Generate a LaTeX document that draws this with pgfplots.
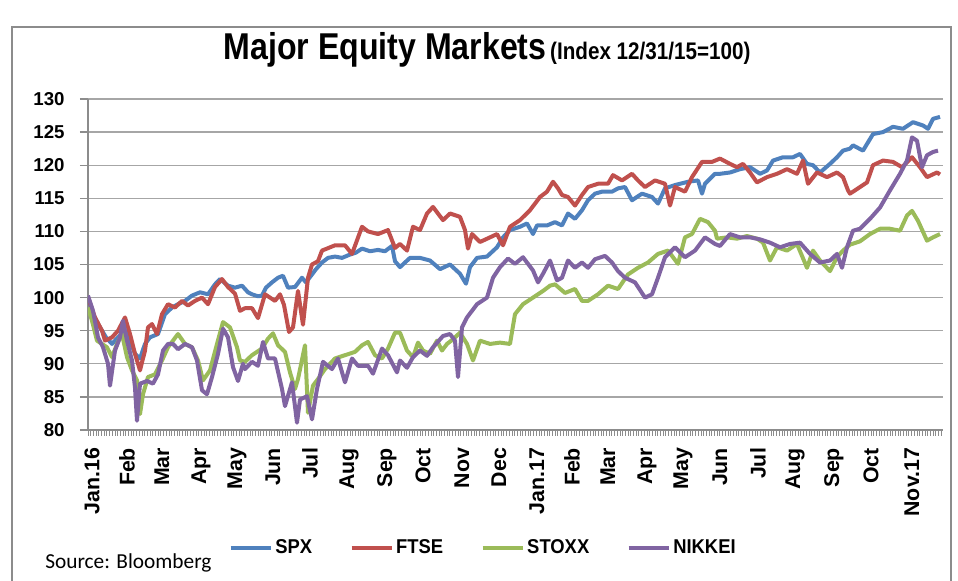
\documentclass[border=0pt]{standalone}
\usepackage{fontspec}
\setmainfont{Liberation Sans}
\newfontfamily\nar[FakeStretch=0.92]{Liberation Sans}
\newfontfamily\tnar[FakeStretch=0.86]{Liberation Sans}
\newfontfamily\srcfont{Carlito}
\usepackage{pgfplots}
\pgfplotsset{compat=1.18}
\definecolor{cSPX}{HTML}{4F81BD}
\definecolor{cFTSE}{HTML}{C0504D}
\definecolor{cSTOXX}{HTML}{9BBB59}
\definecolor{cNIK}{HTML}{8064A2}
\definecolor{gridGrey}{HTML}{A6A6A6}
\definecolor{axisGrey}{HTML}{8C8C8C}
\definecolor{frameGrey}{HTML}{8C8C8C}
\begin{document}
\begin{tikzpicture}
\path[use as bounding box] (0,0) rectangle (718.5pt,435.75pt);
\begin{scope}[x=0.75pt,y=-0.75pt,shift={(0pt,435.75pt)}]
  \draw[color=frameGrey, line width=1.4pt] (12,582) -- (12,27) -- (951,27) -- (951,582);
  \node[inner sep=0pt] at (487,50) {{\tnar\bfseries\fontsize{28}{28}\selectfont Major Equity Markets} {\tnar\bfseries\fontsize{18}{18}\selectfont (Index 12/31/15=100)}};
  \node[anchor=west, inner sep=0pt] at (45,563) {\srcfont\fontsize{16}{16}\selectfont Source: Bloomberg};
\end{scope}
\begin{axis}[
  at={(66pt,113.25pt)}, anchor=south west,
  scale only axis, width=641.25pt, height=248.25pt,
  xmin=88, xmax=943, ymin=80, ymax=130,
  axis x line*=bottom, axis y line*=left,
  axis line style={-, color=axisGrey, line width=1pt},
  ytick={80,85,...,130},
  ymajorgrids, major grid style={color=gridGrey, line width=1pt},
  tick align=outside,
  major tick length=6pt, minor tick length=4.5pt,
  ytick style={color=axisGrey, line width=1pt},
  xtick style={draw=none},
  minor xtick={88,90.7,...,943},
  minor x tick style={draw=axisGrey, line width=0.6pt},
  xtick={90,125,160,199,235,271,308,347,385,421,460,497,535,570,606,645,681,718,756,793,832,869,910},
  xticklabels={Jan.16,Feb,Mar,Apr,May,Jun,Jul,Aug,Sep,Oct,Nov,Dec,Jan.17,Feb,Mar,Apr,May,Jun,Jul,Aug,Sep,Oct,Nov.17},
  xticklabel style={rotate=90, anchor=east, xshift=-4pt, yshift=-1.5pt, font=\fontsize{16}{16}\selectfont\bfseries},
  yticklabel style={font=\fontsize{14}{14}\selectfont\bfseries, xshift=-8pt},
  /pgf/number format/assume math mode=true,
  legend style={at={(0.4626,-0.3565)}, anchor=center, draw=none, fill=none,
    legend columns=4, font=\nar\fontsize{15}{15}\selectfont\bfseries,
    /tikz/every even column/.append style={column sep=26pt}},
  legend image code/.code={\draw[#1, line width=3pt] (0pt,0pt) -- (30pt,0pt);},
  every axis plot/.append style={line width=3pt, line join=round, no marks},
]
\addplot[cSPX] coordinates {(88,100) (93,97.5) (100,95.5) (106,94) (112,93) (118,94) (125,95) (130,93.5) (135,91.5) (140,90.8) (145,93) (150,94) (158,94.5) (165,97.5) (172,98.5) (178,99) (185,99.5) (192,100.3) (200,100.8) (208,100.5) (215,102) (220,102.8) (228,101.8) (235,101.5) (242,101.8) (248,100.8) (252,100.5) (258,100.2) (262,100.3) (266,101.5) (272,102.3) (278,103) (283,103.3) (288,101.5) (295,101.6) (302,103) (306,102.3) (312,103.5) (316,104.3) (322,105.3) (328,106) (335,106.2) (342,106) (350,106.5) (356,106.8) (362,107.4) (370,107) (378,107.2) (385,107) (392,107.8) (395,105.5) (400,104.6) (410,106) (420,106) (430,105.6) (440,104.3) (450,105) (460,103.6) (466,102.1) (470,104.6) (477,106) (487,106.2) (497,107.6) (503,109.1) (510,110.2) (520,110.7) (527,111.2) (533,109.6) (537,110.9) (547,110.9) (555,111.4) (562,110.9) (568,112.7) (575,111.9) (582,113.2) (588,114.7) (595,115.7) (602,116) (612,116) (618,116.5) (625,116.7) (632,114.7) (642,115.7) (652,115.2) (658,114.2) (665,116.5) (675,117) (688,117.5) (698,117.7) (702,115.7) (705,117.2) (715,118.7) (720,118.7) (730,118.9) (740,119.4) (750,119.7) (760,118.7) (767,119.2) (773,120.7) (783,121.2) (793,121.2) (800,121.7) (807,120.2) (813,120) (820,118.9) (830,120.2) (837,121.2) (843,122.2) (850,122.5) (853,123) (863,122.2) (873,124.7) (883,125) (893,125.8) (903,125.5) (913,126.5) (923,126) (928,125.5) (933,127) (940,127.3)};
\addlegendentry{SPX}
\addplot[cFTSE] coordinates {(88,100) (95,97) (102,95) (105,93.5) (112,94) (118,95) (125,97) (130,94.5) (135,91.5) (140,89) (145,92) (148,95.5) (152,96) (157,94.5) (162,97.5) (168,99) (175,98.5) (182,99.5) (188,98.8) (195,99.5) (202,100) (208,99) (215,101.6) (222,102.8) (228,101.6) (235,100.6) (240,98) (245,98.4) (252,98.4) (258,96.9) (265,100.5) (275,99.5) (280,100.5) (284,98.9) (289,94.8) (293,95.5) (298,101) (303,95.9) (308,103) (312,105) (318,105.5) (322,107.1) (335,107.9) (345,107.9) (352,106.6) (362,110.7) (368,110) (378,109.6) (388,110.2) (395,107.5) (400,108.1) (407,107.1) (413,110.7) (420,110.2) (427,112.7) (433,113.7) (443,111.7) (450,112.7) (460,112.2) (465,110.2) (468,107.4) (472,109.6) (480,108.4) (490,109.1) (497,109.6) (503,107.9) (510,110.7) (520,111.7) (530,113.2) (540,115.2) (547,116) (553,117.5) (558,116.5) (562,115.5) (568,115.2) (575,113.9) (582,115.5) (588,116.7) (598,117.2) (608,117.2) (613,118.5) (622,117.7) (632,118.7) (638,117.7) (645,116.7) (655,117.7) (665,117.2) (670,113.9) (675,116.7) (685,116) (692,118.2) (702,120.5) (712,120.5) (720,121) (730,120.2) (737,119.7) (743,120.2) (750,118.9) (757,117.4) (767,118.2) (777,118.7) (787,119.4) (797,118.7) (803,120.7) (808,117.2) (817,118.9) (827,118.2) (837,118.9) (843,118.2) (848,116.2) (850,115.7) (857,116.4) (867,117.4) (873,120) (883,120.7) (893,120.5) (902,119.7) (912,121.2) (920,119.7) (927,118.2) (937,118.9) (940,118.6)};
\addlegendentry{FTSE}
\addplot[cSTOXX] coordinates {(88,98.5) (92,96.5) (97,93.5) (102,93) (107,92.5) (112,91) (117,93) (122,94.5) (127,91) (132,89) (137,87.5) (140,82.4) (143,85.4) (148,88) (155,88.4) (162,90.5) (168,92.5) (178,94.5) (185,93) (192,92.5) (198,90.5) (203,87.5) (210,89) (217,93) (223,96.3) (230,95.5) (237,92.5) (240,90.5) (245,90.3) (252,91.3) (262,92.3) (268,93.8) (273,94.6) (278,92.8) (285,91.8) (290,88.7) (295,86.2) (298,87.7) (305,92.8) (308,82.6) (313,86.7) (318,87.7) (325,89.2) (335,90.8) (345,91.3) (355,91.8) (362,92.8) (368,93.3) (375,91.3) (382,90.8) (388,92.3) (395,94.7) (400,94.7) (407,92) (413,91) (418,93.2) (423,92) (430,91.5) (437,93.5) (442,92) (447,93) (453,93.7) (460,94.7) (467,93) (473,90.5) (480,93.5) (490,93) (500,93.2) (510,93) (515,97.5) (523,99) (533,100) (543,101) (550,101.8) (555,102) (565,100.7) (575,101.3) (582,99.5) (588,99.5) (598,100.5) (608,101.8) (618,101.3) (628,103.5) (638,104.5) (648,105.3) (658,106.6) (668,107.1) (678,105.1) (685,109.1) (692,109.6) (700,111.9) (708,111.4) (715,110.1) (717,108.9) (727,109.1) (737,108.9) (747,109.3) (757,108.9) (763,108.3) (770,105.6) (777,107.6) (787,107.1) (797,108.1) (807,104.5) (813,107.1) (820,105.6) (830,104) (837,106.1) (843,107.1) (850,108) (860,108.5) (870,109.6) (880,110.4) (890,110.4) (900,110.1) (907,112.4) (912,113.1) (918,111.6) (927,108.6) (933,109.1) (940,109.6)};
\addlegendentry{STOXX}
\addplot[cNIK] coordinates {(88,100.3) (93,98) (98,94) (103,92.5) (108,90) (110,86.7) (115,92) (120,94) (123,96.5) (127,93.5) (132,90.5) (135,86.4) (137,81.4) (140,87) (147,87.4) (153,87) (158,88.4) (163,92) (168,93) (173,93) (178,92.2) (185,93) (192,92.5) (197,90.5) (202,86) (207,85.4) (212,88) (218,91.5) (223,95.3) (228,94) (233,89.5) (238,87.4) (243,90) (245,89.2) (252,90.3) (258,89.7) (263,93.3) (268,90.8) (275,90.8) (282,86.2) (285,83.6) (292,87.2) (297,81.1) (300,84.6) (307,85.1) (312,81.6) (317,86.2) (323,90.3) (332,89.2) (338,90.8) (345,87.2) (352,90.8) (358,89.7) (368,89.7) (373,88.5) (382,92.3) (388,91.3) (397,88.7) (400,90.5) (407,89.4) (413,91) (420,92) (427,91.2) (433,92.5) (443,94.2) (450,94.5) (455,93.5) (458,88) (462,95.5) (467,97) (477,99) (487,100) (493,103) (500,104.6) (508,105.9) (515,105.1) (523,106.1) (533,104.1) (538,102.3) (543,103.6) (550,105.6) (557,102.6) (562,103) (568,105.6) (575,104.5) (582,105.3) (588,104.5) (595,105.8) (605,106.3) (612,105.3) (618,104) (625,103) (635,102.3) (645,100) (652,100.5) (658,103) (665,106.1) (675,107.6) (685,106.1) (695,107.1) (705,109.1) (715,108.1) (720,107.8) (730,109.6) (740,109.1) (750,109.1) (760,108.8) (770,108.3) (780,107.6) (790,108.1) (800,108.3) (810,106.6) (820,105.3) (830,105.6) (837,106.6) (842,104.5) (847,107.6) (853,110.1) (860,110.4) (870,111.9) (880,113.6) (890,116.2) (900,118.7) (907,120.7) (912,124.2) (917,123.7) (922,119.7) (927,121.5) (933,122) (938,122.2)};
\addlegendentry{NIKKEI}
\end{axis}
\end{tikzpicture}
\end{document}
